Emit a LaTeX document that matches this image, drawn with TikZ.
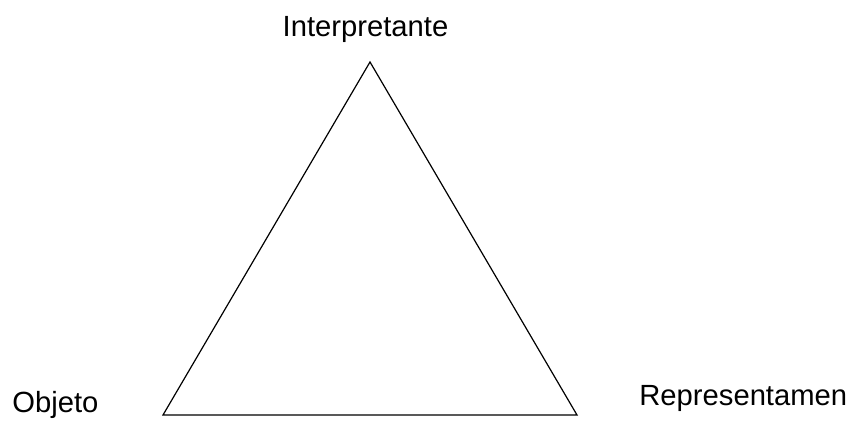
\documentclass[tikz,border=0pt]{standalone}
\usepackage{fontspec}
\setmainfont{Liberation Sans}
\usetikzlibrary{positioning,calc}
\usepackage{xcolor}
\definecolor{Ink}{HTML}{000000}
\tikzset{
 label/.style={inner sep=0pt, anchor=base, font=\fontsize{14.6}{17}\selectfont, text=Ink},
 edge/.style={draw=Ink, line width=0.6pt, line join=miter}
}
\begin{document}
\begin{tikzpicture}[x=0.5pt,y=-0.5pt]
\useasboundingbox (0,0) rectangle (855,421);
% vertices of the triangle
\coordinate (top) at (370,62);
\coordinate (left) at (163,415);
\coordinate (right) at (577,415);
\draw[edge] (top) -- (right) -- (left) -- cycle;
% sign labels
\node[label] (interp) at (365.5,37) {Interpretante};
\node[label,anchor=base west] (obj) at (12,413) {Objeto};
\node[label,anchor=base west] (repr) at (639,406) {Representamen};
\end{tikzpicture}
\end{document}
